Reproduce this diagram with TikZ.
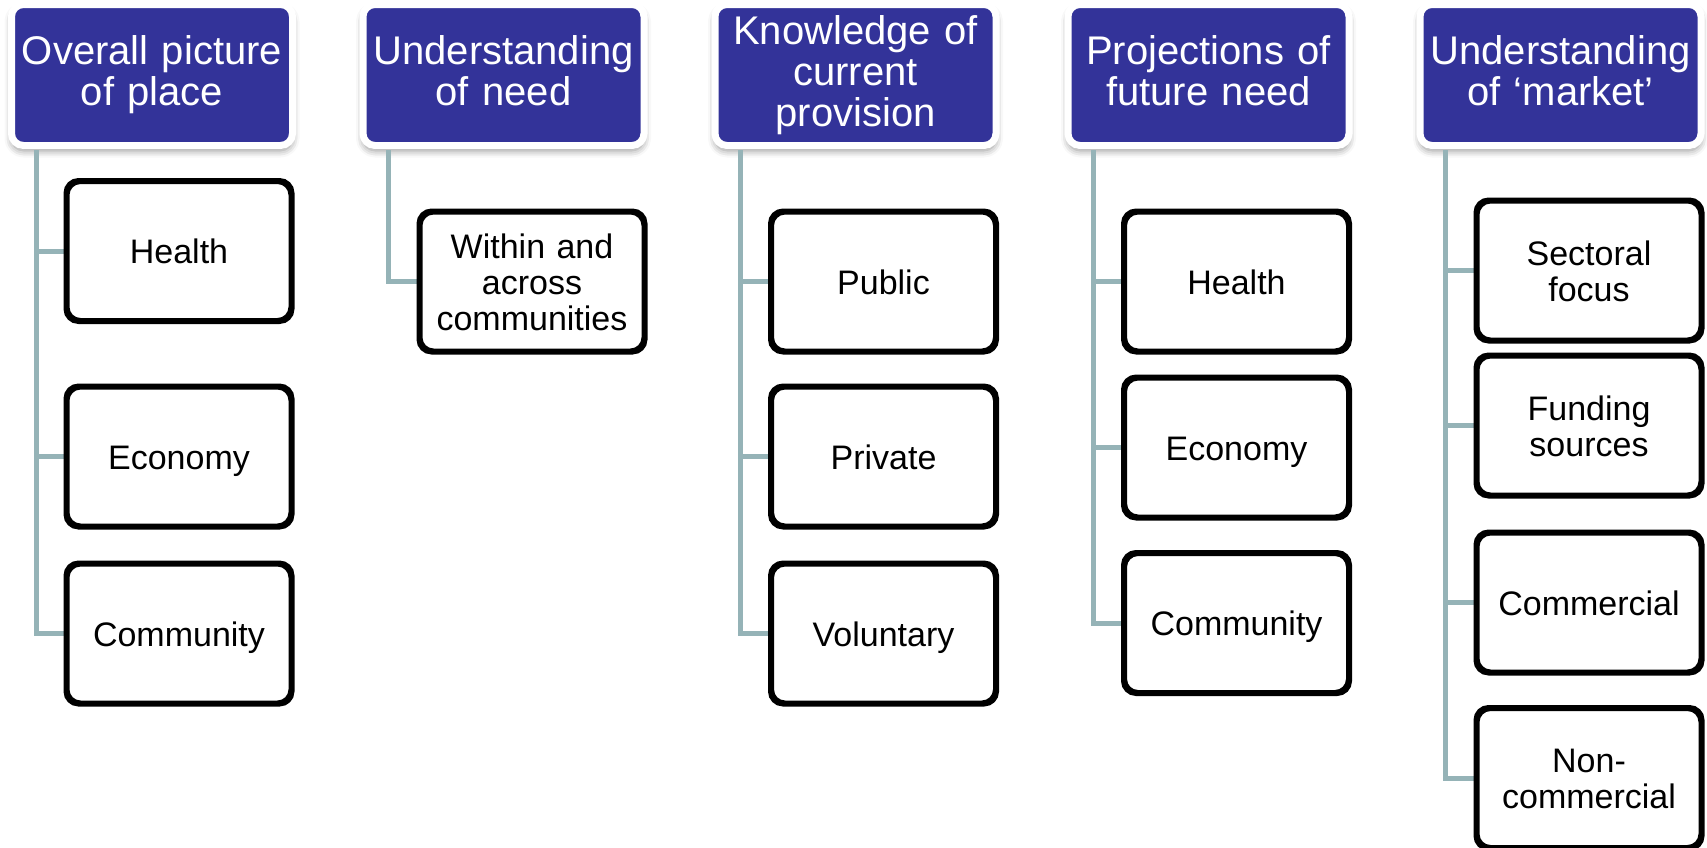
\documentclass[tikz,border=0pt]{standalone}
\usepackage{fontspec}
\setmainfont{Liberation Sans}
\usetikzlibrary{shadows.blur}
\definecolor{hdrblue}{RGB}{51,51,153}
\definecolor{connc}{RGB}{149,179,183}
\newcommand{\mydsc}{\vphantom{gy}}
\newcommand{\mytopstrut}{\rule{0pt}{33pt}}
\tikzset{
  hdr/.style={rectangle, rounded corners=12pt, fill=hdrblue, draw=white, line width=7pt,
    minimum width=281pt, minimum height=141pt, inner sep=0pt, text width=272pt, align=center,
    text=white, font=\fontsize{40}{41}\selectfont,
    execute at end node=\mydsc,
    blur shadow={shadow xshift=0pt, shadow yshift=-5pt, shadow blur radius=7pt, shadow opacity=45}},
  kid/.style={rectangle, rounded corners=13pt, fill=white, draw=black, line width=4pt,
    minimum width=223pt, minimum height=138pt, inner sep=0pt, text width=215pt, align=center,
    font=\fontsize{34}{36}\selectfont,
    execute at begin node=\mytopstrut, execute at end node=\mydsc},
  conn/.style={draw=connc, line width=5pt}
}
\begin{document}
\begin{tikzpicture}[x=1pt,y=-1pt]
\useasboundingbox (0,0) rectangle (1707,847);
% headers
\node[hdr] (h1) at (152,75) {Overall picture\\of place};
\node[hdr] (h2) at (503.5,75) {Understanding\\of need};
\node[hdr] (h3) at (855.5,75) {Knowledge of\\current\\provision};
\node[hdr] (h4) at (1208.5,75) {Projections of\\future need};
\node[hdr] (h5) at (1560.5,75) {Understanding\\of ‘market’};
% children
\node[kid] (c11) at (179,251) {Health};
\node[kid] (c12) at (179,456.5) {Economy};
\node[kid] (c13) at (179,633.5) {Community};
\node[kid] (c21) at (532,281.5) {Within and\\across\\communities};
\node[kid] (c31) at (883.5,281.5) {Public};
\node[kid] (c32) at (883.5,456.5) {Private};
\node[kid] (c33) at (883.5,633.5) {Voluntary};
\node[kid] (c41) at (1236.5,281.5) {Health};
\node[kid] (c42) at (1236.5,447.5) {Economy};
\node[kid] (c43) at (1236.5,623) {Community};
\node[kid] (c51) at (1589,270.5) {Sectoral\\focus};
\node[kid] (c52) at (1589,425.5) {Funding\\sources};
\node[kid] (c53) at (1589,602.5) {Commercial};
\node[kid] (c54) at (1589,778) {Non-\\commercial};
% connectors
\foreach \h/\c in {h1/c11,h1/c12,h1/c13,h2/c21,h3/c31,h3/c32,h3/c33,h4/c41,h4/c42,h4/c43,h5/c51,h5/c52,h5/c53,h5/c54}{
  \draw[conn] ([xshift=28.5pt,yshift=-1pt]\h.south west) |- ([xshift=-1pt]\c.west);
}
% redraw children borders over connector ends
\foreach \c in {c11,c12,c13,c21,c31,c32,c33,c41,c42,c43,c51,c52,c53,c54}{
  \draw[black, line width=4pt, rounded corners=13pt] (\c.south west) rectangle (\c.north east);
}
\end{tikzpicture}
\end{document}
